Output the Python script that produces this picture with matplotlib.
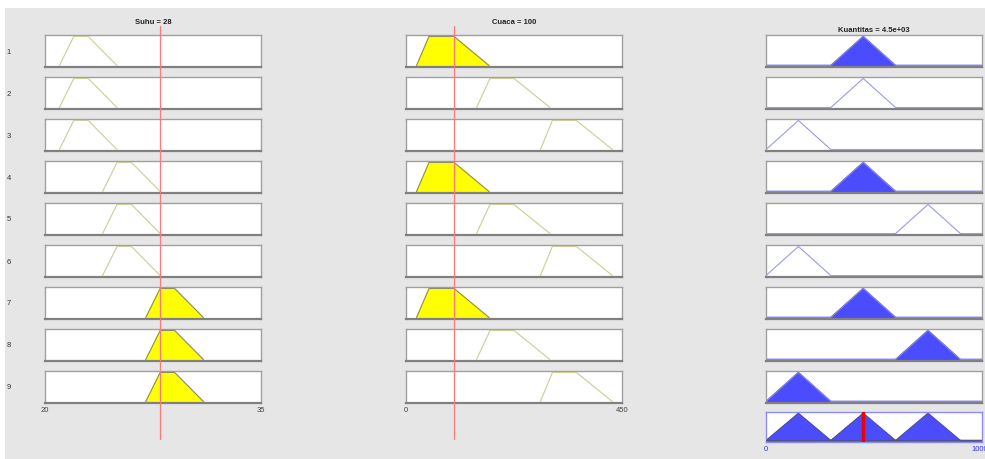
import numpy as np
import matplotlib.pyplot as plt
from matplotlib.patches import Rectangle

plt.rcParams['font.family'] = ['Liberation Sans', 'DejaVu Sans']

# input / output variables
suhu_range = [20, 35]
suhu_value = 28
suhu_mf = [[21, 22, 23, 25], [24, 25, 26, 28], [27, 28, 29, 31]]

cuaca_range = [0, 450]
cuaca_value = 100
cuaca_mf = [[22, 48, 100, 173], [147, 175, 225, 300], [280, 305, 355, 430]]

kuantitas_range = [0, 10000]
kuantitas_value = 4500
kuantitas_mf = [[0, 1500, 3000], [3000, 4500, 6000], [6000, 7500, 9000]]

# rule table (index of mf used per rule)
rule_suhu = [0, 0, 0, 1, 1, 1, 2, 2, 2]
rule_cuaca = [0, 1, 2, 0, 1, 2, 0, 1, 2]
rule_out = [1, 1, 0, 1, 2, 0, 1, 2, 0]
suhu_fired = [False, False, False, False, False, False, True, True, True]
cuaca_fired = [True, False, False, True, False, False, True, False, False]
out_fired = [True, False, False, True, False, False, True, True, True]

W, H = 985, 460
fig = plt.figure(figsize=(W / 100, H / 100), dpi=100)
fig.patch.set_facecolor('white')
fig.add_artist(Rectangle((5 / W, 0), 980 / W, 451 / H, transform=fig.transFigure,
                         facecolor='#e6e6e6', edgecolor='none', zorder=-10))


def box(x0, y0, x1, y1):
    return [x0 / W, 1 - y1 / H, (x1 - x0) / W, (y1 - y0) / H]


def style(ax, edge='#a0a0a0', bottom='#808080'):
    ax.set_facecolor('white')
    for s in ['top', 'left', 'right']:
        ax.spines[s].set_color(edge)
        ax.spines[s].set_linewidth(1.0)
    ax.spines['bottom'].set_color(bottom)
    ax.spines['bottom'].set_linewidth(1.6)
    ax.set_yticks([])
    ax.set_xticks([])
    ax.set_ylim(-0.05, 1.05)


def trap(p):
    return [p[0], p[1], p[2], p[3]], [0, 1, 1, 0]


def tri(p, rng):
    xs = [rng[0], p[0], p[1], p[2], rng[1]]
    ys = [0, 0, 1, 0, 0]
    return xs, ys


cols_x = [(45, 261), (406, 622), (766, 982)]
row_top = 36
row_h = 32
row_gap = 42
nrules = len(rule_suhu)

inputs = [(suhu_range, suhu_mf, rule_suhu, suhu_fired, 'Suhu', suhu_value),
          (cuaca_range, cuaca_mf, rule_cuaca, cuaca_fired, 'Cuaca', cuaca_value)]

for c, (rng, mfs, rule_idx, fired, name, val) in enumerate(inputs):
    x0, x1 = cols_x[c]
    for i in range(nrules):
        y0 = row_top + i * row_gap
        ax = fig.add_axes(box(x0, y0, x1, y0 + row_h))
        style(ax)
        ax.set_xlim(rng)
        xs, ys = trap(mfs[rule_idx[i]])
        if fired[i]:
            ax.fill(xs, ys, color='#ffff00', zorder=2)
            ax.plot(xs, ys, color='#8c8c6e', lw=0.8, zorder=3)
        else:
            ax.plot(xs, ys, color='#cccc99', lw=0.8, zorder=3)
        if i == nrules - 1:
            ax.set_xticks(rng)
            ax.set_xticklabels([str(v) for v in rng])
            ax.tick_params(axis='x', length=0, pad=2, labelsize=5.5, colors='#444444')
        if c == 0:
            fig.text(9 / W, 1 - (y0 + row_h / 2) / H, str(i + 1), fontsize=5.5,
                     color='#333333', va='center', ha='center')
    # red value line across all rows
    ov = fig.add_axes(box(x0, 27, x1, 441), zorder=20)
    ov.set_xlim(rng)
    ov.set_ylim(0, 1)
    ov.axis('off')
    ov.patch.set_alpha(0)
    ov.axvline(val, color='#ff7777', lw=0.9)
    fig.text((x0 + x1) / 2 / W, 1 - 22 / H, f'{name} = {val}', fontsize=5.5,
             fontweight='bold', ha='center', va='center', color='#222222')

# output column
x0, x1 = cols_x[2]
for i in range(nrules):
    y0 = row_top + i * row_gap
    ax = fig.add_axes(box(x0, y0, x1, y0 + row_h))
    style(ax)
    ax.set_xlim(kuantitas_range)
    xs, ys = tri(kuantitas_mf[rule_out[i]], kuantitas_range)
    if out_fired[i]:
        ax.fill(xs, ys, color='#4c4cff', zorder=2)
        ax.plot(xs, ys, color='#8888cc', lw=0.8, zorder=3)
    else:
        ax.plot(xs, ys, color='#9a9ae6', lw=0.8, zorder=3)

# aggregated output
agg = fig.add_axes(box(x0, 413, x1, 443))
style(agg, edge='#8c8cff', bottom='#8c8cff')
agg.spines['bottom'].set_linewidth(1.0)
agg.set_xlim(kuantitas_range)
for p in kuantitas_mf:
    xs, ys = tri(p, kuantitas_range)
    agg.fill(xs, ys, color='#4c4cff', zorder=2)
    agg.plot(xs, ys, color='#555577', lw=0.6, zorder=3)
agg.plot([kuantitas_value, kuantitas_value], [0, 1], color='#ee0000', lw=2.5, zorder=4)
agg.set_xticks(kuantitas_range)
agg.set_xticklabels([str(v) for v in kuantitas_range])
agg.tick_params(axis='x', length=0, pad=2, labelsize=5.5, colors='#3333ff')
fig.text((x0 + x1) / 2 / W, 1 - 31 / H, f'Kuantitas = {kuantitas_value:.1e}', fontsize=5.5,
         fontweight='bold', ha='center', va='center', color='#222222')

fig.savefig('out.png', dpi=100, facecolor=fig.get_facecolor())
